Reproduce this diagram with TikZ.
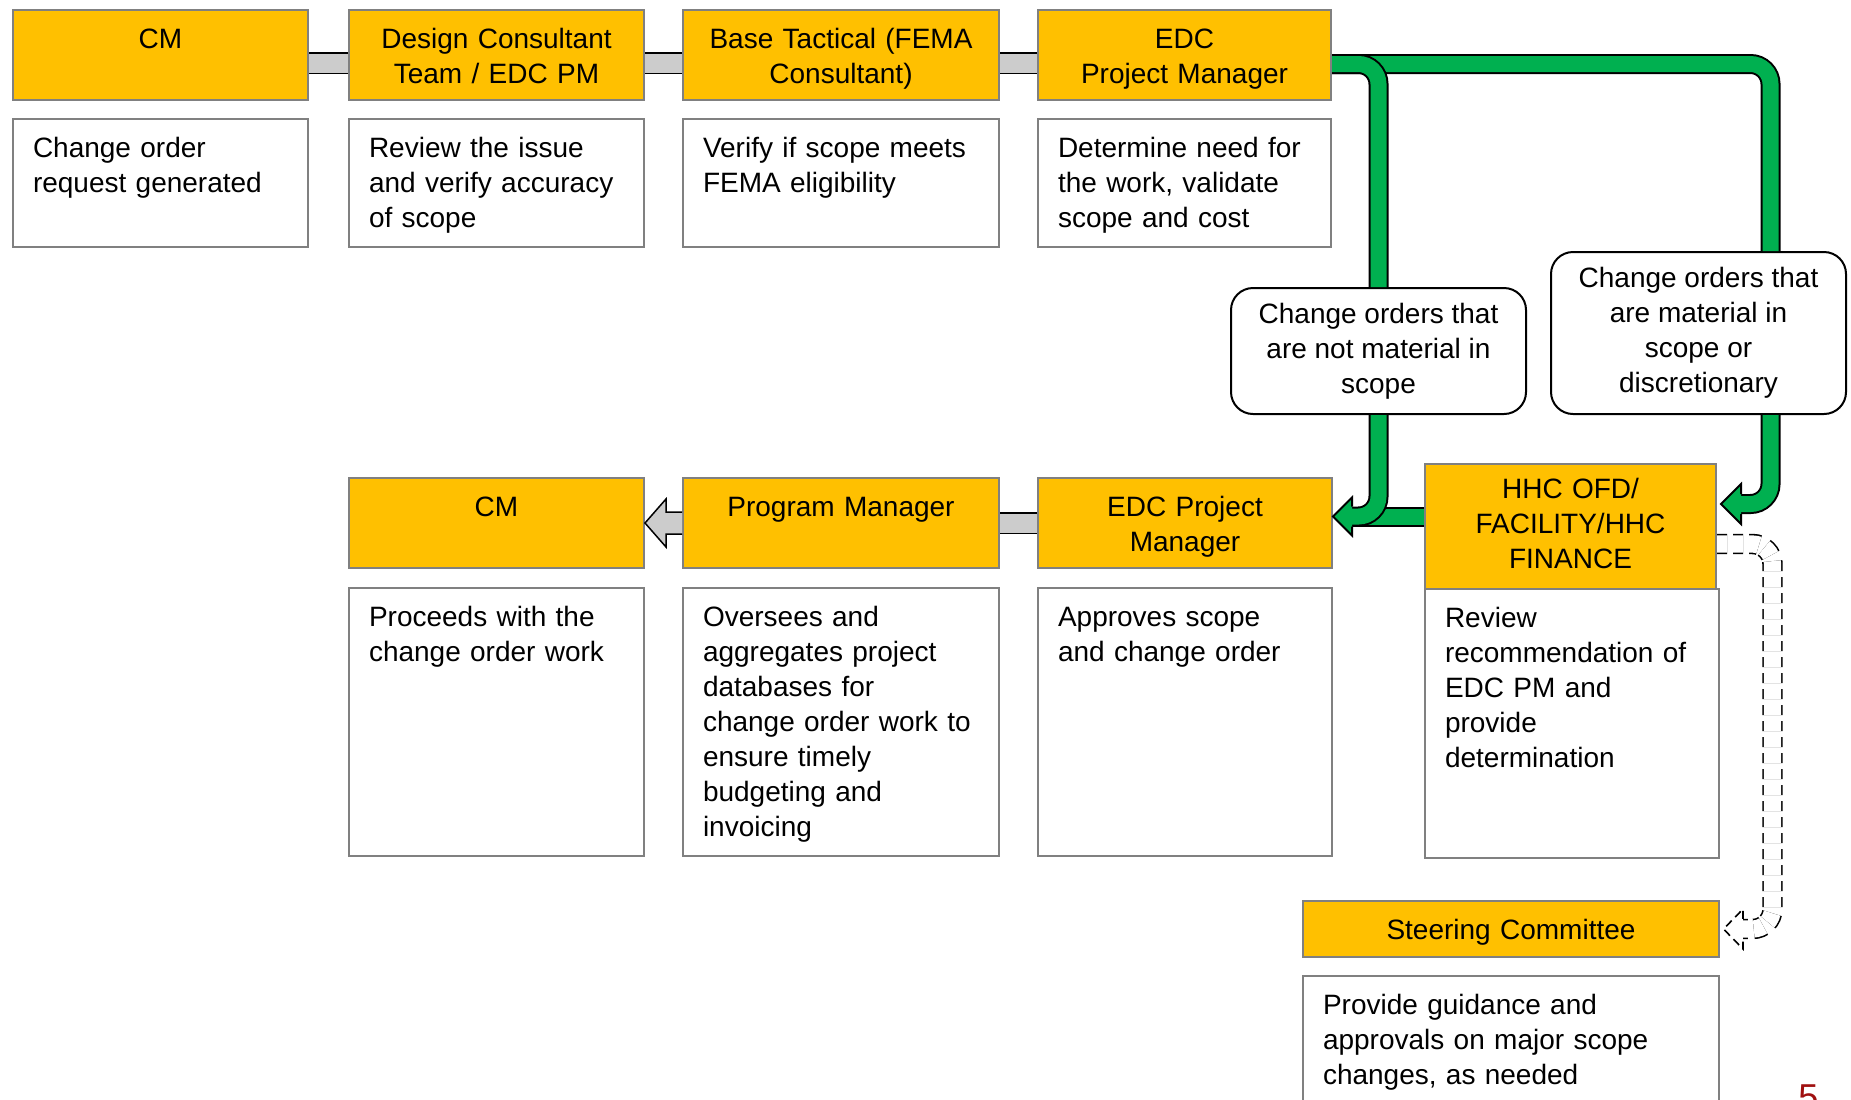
\documentclass[tikz,border=0pt]{standalone}
\usepackage{fontspec}
\setmainfont{Liberation Sans}
\definecolor{amber}{HTML}{FFC000}
\definecolor{pipegreen}{HTML}{00B050}
\definecolor{bargray}{HTML}{CCCCCC}
\definecolor{pagered}{HTML}{A01010}
\begin{document}
\begin{tikzpicture}[x=0.5pt,y=-0.5pt,
    every node/.style={font=\fontsize{14}{17.5}\selectfont},
    head/.style={draw=black!50, line width=1pt, fill=amber, align=center,
        inner xsep=10pt, inner ysep=9pt, text height=10pt, text depth=17pt, anchor=north west},
    desc/.style={draw=black!50, line width=1pt, fill=white, align=left,
        inner xsep=10pt, inner ysep=9pt, text height=10pt, anchor=north west},
    choice/.style={draw=black, line width=1pt, fill=white, rounded corners=11pt,
        align=center, minimum width=147.5pt, anchor=north west},
    bar/.style={draw=bargray, line width=9.5pt, preaction={draw=black, line width=11pt}},
    graytip/.style={fill=bargray, draw=black, line width=0.75pt},
    pipe/.style={draw=pipegreen, line width=8pt, rounded corners=10pt,
        preaction={draw=black, line width=10pt}},
    greentip/.style={fill=pipegreen, draw=black, line width=1pt},
    dashpipe/.style={draw=black, line width=0.8pt, double=white, double distance=8.6pt,
        rounded corners=10pt, dash pattern=on 5pt off 3pt},
    dashtip/.style={draw=black, line width=0.8pt, dash pattern=on 4pt off 2.5pt},
    pagenum/.style={text=pagered, anchor=base west, inner sep=0pt,
        font=\fontsize{18}{20}\selectfont}]

    \fill[white] (0,0) rectangle (1851,1099);
    \useasboundingbox (0,0) rectangle (1851,1099);

    % Top row
    \node[head, text width=127.5pt] (cm1) at (12,9) {CM};
    \node[head, text width=127.5pt] (dc) at (348,9) {Design Consultant\\Team / EDC PM};
    \node[head, text width=138pt] (bt) at (682,9) {Base Tactical (FEMA\\Consultant)};
    \node[head, text width=126.5pt] (edc1) at (1037,9) {EDC\\Project Manager};

    \node[desc, text width=127.5pt, text depth=36pt] (cm1d) at (12,118) {Change order\\request generated};
    \node[desc, text width=127.5pt, text depth=36pt] (dcd) at (348,118) {Review the issue\\and verify accuracy\\of scope};
    \node[desc, text width=138pt, text depth=36pt] (btd) at (682,118) {Verify if scope meets\\FEMA eligibility};
    \node[desc, text width=126.5pt, text depth=36pt] (edc1d) at (1037,118) {Determine need for\\the work, validate\\scope and cost};

    % Decisions
    \node[choice, minimum height=63pt] (nm) at (1230,287) {Change orders that\\are not material in\\scope};
    \node[choice, minimum height=81pt] (mat) at (1550,251) {Change orders that\\are material in\\scope or\\discretionary};

    % Bottom row
    \node[head, text width=127.5pt] (cm2) at (348,477) {CM};
    \node[head, text width=138pt] (pm) at (682,477) {Program Manager};
    \node[head, text width=127pt] (edc2) at (1037,477) {EDC Project\\Manager};
    \node[head, text width=125.5pt, text height=8pt, text depth=36.5pt] (hhc) at (1424,463) {HHC OFD/\\FACILITY/HHC\\FINANCE};

    \node[desc, text width=127.5pt, text depth=106pt] (cm2d) at (348,587) {Proceeds with the\\change order work};
    \node[desc, text width=138pt, text depth=106pt] (pmd) at (682,587) {Oversees and\\aggregates project\\databases for\\change order work to\\ensure timely\\budgeting and\\invoicing};
    \node[desc, text width=127pt, text depth=106pt] (edc2d) at (1037,587) {Approves scope\\and change order};
    \node[desc, text width=127pt, text depth=106.5pt] (hhcd) at (1424,588) {Review\\recommendation of\\EDC PM and\\provide\\determination};

    \node[head, text width=188pt, text depth=0pt] (steer) at (1302,900) {Steering Committee};
    \node[desc, text width=188pt, text depth=60pt] (steerd) at (1302,975) {Provide guidance and\\approvals on major scope\\changes, as needed};

    \node[pagenum] (pg) at (1798,1109) {5};

    % Grey links
    \draw[bar] ([yshift=-4pt]cm1.east) -- ([yshift=-4pt]dc.west);
    \draw[bar] ([yshift=-4pt]dc.east) -- ([yshift=-4pt]bt.west);
    \draw[bar] ([yshift=-4pt]bt.east) -- ([yshift=-4pt]edc1.west);
    \draw[bar] (edc2.west) -- (pm.east);
    \filldraw[graytip] ([yshift=5.5pt]pm.west) -- ([xshift=-8pt,yshift=5.5pt]pm.west)
        -- ([xshift=-8pt,yshift=12pt]pm.west) -- (cm2.east)
        -- ([xshift=-8pt,yshift=-12pt]pm.west) -- ([xshift=-8pt,yshift=-5.5pt]pm.west)
        -- ([yshift=-5.5pt]pm.west);

    % Green routes
    \draw[pipe] ([yshift=-4.5pt]edc1.east) -| ([xshift=36pt]mat.north);
    \draw[pipe] ([yshift=-4.5pt]edc1.east) -| (nm.north);
    \draw[pipe] ([yshift=5pt]hhc.west) -- ([xshift=9.5pt,yshift=3.25pt]edc2.east);
    \draw[pipe] (nm.south) |- ([xshift=9.5pt,yshift=3.25pt]edc2.east);
    \filldraw[greentip] ([xshift=9.5pt,yshift=8.25pt]edc2.east) -- ([xshift=9.5pt,yshift=12.75pt]edc2.east)
        -- ([yshift=3.25pt]edc2.east) -- ([xshift=9.5pt,yshift=-6.25pt]edc2.east)
        -- ([xshift=9.5pt,yshift=-1.75pt]edc2.east);
    \draw[pipe] ([xshift=36pt]mat.south) |- ([xshift=12pt,yshift=11.25pt]hhc.east);
    \filldraw[greentip] ([xshift=12pt,yshift=16.25pt]hhc.east) -- ([xshift=12pt,yshift=21.25pt]hhc.east)
        -- ([xshift=2pt,yshift=11.25pt]hhc.east) -- ([xshift=12pt,yshift=1.25pt]hhc.east)
        -- ([xshift=12pt,yshift=6.25pt]hhc.east);

    % Dashed route
    \draw[dashpipe] ([yshift=-8.75pt]hhc.east) -- ++(27.75pt,0) |- ([xshift=11.5pt]steer.east);
    \draw[dashtip] ([xshift=11.5pt,yshift=5.1pt]steer.east) -- ([xshift=11.5pt,yshift=10pt]steer.east)
        -- ([xshift=1.75pt]steer.east) -- ([xshift=11.5pt,yshift=-10pt]steer.east)
        -- ([xshift=11.5pt,yshift=-5.1pt]steer.east);

\end{tikzpicture}
\end{document}
